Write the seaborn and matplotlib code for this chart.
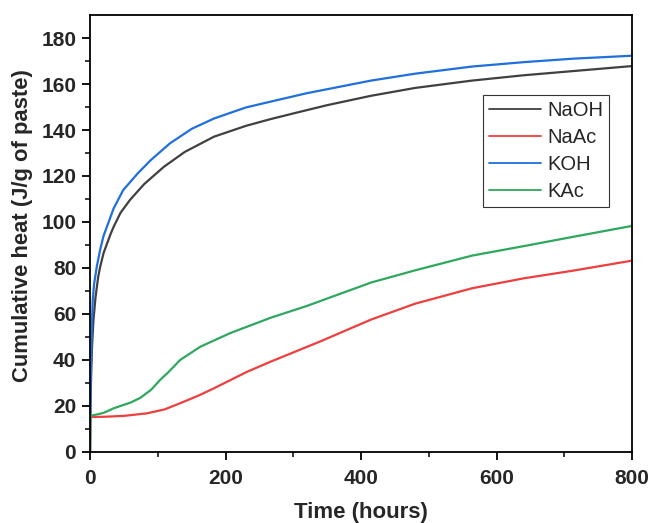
import matplotlib
matplotlib.use("Agg")
import matplotlib.pyplot as plt
import seaborn as sns
import pandas as pd

# ---- data ----
naoh_t = [0, 0.3, 1, 2, 3, 5, 8, 12, 15, 20, 30, 35, 45, 59, 80, 109, 140, 183, 230, 266, 300, 350, 415, 480, 564, 640, 712, 800]
naoh_v = [0, 12, 25, 37, 46, 57, 67, 76, 80.5, 86.5, 94.5, 98, 104, 109.6, 116.5, 124, 130.5, 137.1, 141.8, 144.7, 147.2, 150.8, 154.9, 158.3, 161.5, 163.8, 165.6, 167.8]

koh_t = [0, 0.3, 1, 1.5, 2, 3, 4, 6, 10, 15, 20, 25, 35, 49, 70, 90, 118, 150, 183, 230, 266, 320, 415, 480, 564, 640, 712, 800]
koh_v = [0, 15, 30, 37, 45, 57, 66, 73, 80.6, 88, 94, 98, 106, 113.9, 121, 127, 134.2, 140.5, 145, 149.8, 152.3, 156, 161.5, 164.5, 167.6, 169.5, 171, 172.3]

kac_t = [0, 0.3, 1, 10, 20, 35, 50, 60, 74, 90, 104, 115, 133, 163, 207, 266, 320, 415, 480, 564, 640, 712, 800]
kac_v = [0, 15.5, 15.8, 16.3, 17, 19, 20.5, 21.5, 23.5, 27, 31.5, 34.5, 40, 45.8, 51.7, 58.3, 63.5, 73.7, 79, 85.4, 89.5, 93.5, 98.3]

naac_t = [0, 0.3, 1, 20, 50, 84, 110, 133, 160, 183, 232, 266, 340, 415, 480, 564, 640, 712, 800]
naac_v = [0, 15.0, 15.2, 15.3, 15.7, 16.8, 18.5, 21.2, 24.5, 27.7, 34.9, 39.2, 48.1, 57.6, 64.5, 71.2, 75.5, 78.8, 83.2]

series_names = ["NaOH", "NaAc", "KOH", "KAc"]
series_colors = ["#404040", "#ef3e3e", "#1f6fdc", "#2ea85c"]
x_ticks = [0, 200, 400, 600, 800]
y_ticks = [0, 20, 40, 60, 80, 100, 120, 140, 160, 180]

frames = []
for name, t, v in [("NaOH", naoh_t, naoh_v), ("NaAc", naac_t, naac_v),
                   ("KOH", koh_t, koh_v), ("KAc", kac_t, kac_v)]:
    frames.append(pd.DataFrame({"t": t, "v": v, "sample": name}))
df = pd.concat(frames, ignore_index=True)

sns.set_style("ticks")
plt.rcParams["font.family"] = ["Liberation Sans", "DejaVu Sans"]

fig = plt.figure(figsize=(6.49, 5.23), dpi=100)
ax = fig.add_axes([0.1387, 0.1358, 0.8353, 0.8355])

sns.lineplot(data=df, x="t", y="v", hue="sample", hue_order=series_names,
             palette=dict(zip(series_names, series_colors)), linewidth=1.6,
             estimator=None, sort=True, ax=ax)

ax.set_xlim(0, 800)
ax.set_ylim(0, 190)
ax.set_xticks(x_ticks)
ax.set_yticks(y_ticks)
ax.set_xticks(range(100, 800, 200), minor=True)
ax.set_yticks(range(10, 190, 20), minor=True)
ax.tick_params(axis="both", which="major", direction="out", length=6, width=1.3,
               labelsize=15, top=False, right=False, color="black", pad=4)
ax.tick_params(axis="x", which="major", pad=6)
ax.tick_params(axis="both", which="minor", direction="out", length=3.5, width=1.1,
               top=False, right=False, color="black")
for lab in ax.get_xticklabels() + ax.get_yticklabels():
    lab.set_fontweight("bold")
for sp in ax.spines.values():
    sp.set_visible(True)
    sp.set_linewidth(1.3)
    sp.set_color("black")

ax.set_xlabel("Time (hours)", fontsize=16, fontweight="bold", labelpad=10)
ax.set_ylabel("Cumulative heat (J/g of paste)", fontsize=15.8, fontweight="bold")
ax.yaxis.set_label_coords(-0.105, 0.519)

leg = ax.legend(loc="upper right", bbox_to_anchor=(0.958, 0.817), fontsize=14.5,
                frameon=True, fancybox=False, framealpha=1, edgecolor="#333333",
                handlelength=2.6, handletextpad=0.3, labelspacing=0.4,
                borderpad=0.3, borderaxespad=0)
leg.get_frame().set_linewidth(0.8)
for line in leg.get_lines():
    line.set_linewidth(1.3)

fig.savefig("out.png", dpi=100)
